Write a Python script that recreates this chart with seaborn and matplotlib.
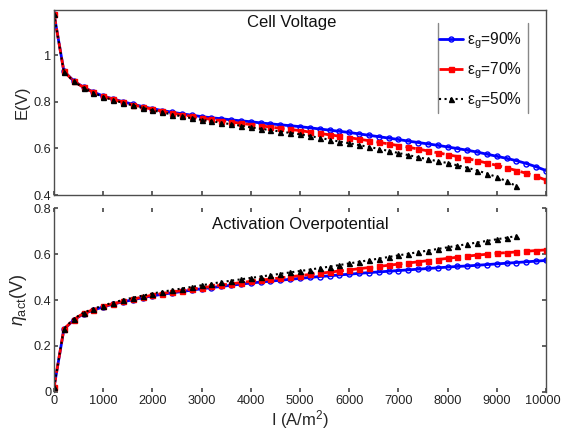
import numpy as np
import pandas as pd
import matplotlib
matplotlib.use("Agg")
import matplotlib.pyplot as plt
import matplotlib.transforms as mtransforms
import seaborn as sns
from matplotlib.lines import Line2D

# ---------------- data ----------------
current = list(range(0, 10001, 200))          # I (A/m^2)
current_50 = list(range(0, 9401, 200))

E_90 = [1.176, 0.931, 0.889, 0.862, 0.841, 0.824, 0.812, 0.800, 0.789, 0.779,
        0.770, 0.762, 0.755, 0.748, 0.742, 0.736, 0.731, 0.727, 0.722, 0.718,
        0.714, 0.709, 0.705, 0.701, 0.697, 0.693, 0.688, 0.683, 0.678, 0.673,
        0.668, 0.662, 0.656, 0.650, 0.644, 0.638, 0.631, 0.625, 0.619, 0.613,
        0.606, 0.599, 0.592, 0.584, 0.575, 0.566, 0.557, 0.547, 0.535, 0.521,
        0.505]
E_70 = [1.176, 0.930, 0.888, 0.861, 0.840, 0.823, 0.810, 0.798, 0.787, 0.777,
        0.768, 0.759, 0.751, 0.744, 0.737, 0.730, 0.724, 0.719, 0.713, 0.707,
        0.702, 0.697, 0.691, 0.686, 0.681, 0.676, 0.670, 0.664, 0.658, 0.652,
        0.646, 0.639, 0.633, 0.626, 0.619, 0.612, 0.605, 0.597, 0.589, 0.581,
        0.573, 0.565, 0.556, 0.547, 0.537, 0.527, 0.516, 0.505, 0.493, 0.480,
        0.464]
E_50 = [1.176, 0.929, 0.887, 0.859, 0.838, 0.820, 0.807, 0.795, 0.784, 0.773,
        0.763, 0.754, 0.745, 0.737, 0.729, 0.722, 0.716, 0.710, 0.703, 0.697,
        0.690, 0.684, 0.678, 0.672, 0.666, 0.660, 0.653, 0.645, 0.637, 0.629,
        0.622, 0.614, 0.606, 0.598, 0.589, 0.580, 0.571, 0.562, 0.553, 0.545,
        0.537, 0.527, 0.517, 0.505, 0.492, 0.477, 0.459, 0.438]

eta_90 = [0.020, 0.272, 0.313, 0.340, 0.356, 0.370, 0.382, 0.392, 0.401, 0.410,
          0.418, 0.425, 0.431, 0.437, 0.443, 0.449, 0.454, 0.459, 0.464, 0.469,
          0.474, 0.478, 0.482, 0.486, 0.490, 0.494, 0.498, 0.502, 0.505, 0.509,
          0.512, 0.516, 0.519, 0.522, 0.525, 0.528, 0.531, 0.534, 0.537, 0.540,
          0.543, 0.546, 0.548, 0.551, 0.554, 0.557, 0.560, 0.563, 0.566, 0.569,
          0.572]
eta_70 = [0.020, 0.273, 0.315, 0.342, 0.358, 0.372, 0.384, 0.394, 0.404, 0.413,
          0.421, 0.428, 0.435, 0.441, 0.447, 0.453, 0.459, 0.465, 0.470, 0.476,
          0.481, 0.486, 0.491, 0.496, 0.501, 0.506, 0.511, 0.516, 0.521, 0.526,
          0.531, 0.536, 0.541, 0.546, 0.551, 0.556, 0.561, 0.566, 0.571, 0.576,
          0.581, 0.586, 0.591, 0.595, 0.599, 0.603, 0.606, 0.609, 0.612, 0.615,
          0.618]
eta_50 = [0.020, 0.275, 0.318, 0.345, 0.362, 0.376, 0.389, 0.400, 0.410, 0.419,
          0.428, 0.436, 0.443, 0.450, 0.457, 0.464, 0.471, 0.478, 0.484, 0.490,
          0.496, 0.502, 0.508, 0.514, 0.520, 0.526, 0.532, 0.539, 0.545, 0.552,
          0.559, 0.566, 0.573, 0.580, 0.587, 0.594, 0.601, 0.608, 0.615, 0.622,
          0.629, 0.636, 0.643, 0.650, 0.657, 0.664, 0.671, 0.678]

labels = ["ε$_\\mathrm{g}$=90%", "ε$_\\mathrm{g}$=70%", "ε$_\\mathrm{g}$=50%"]
x_ticks = list(range(0, 10001, 1000))
E_ticks = [0.4, 0.6, 0.8, 1.0]
E_ticklabels = ["0.4", "0.6", "0.8", "1"]
eta_ticks = [0, 0.2, 0.4, 0.6, 0.8]
eta_ticklabels = ["0", "0.2", "0.4", "0.6", "0.8"]

# ---------------- style ----------------
sns.set_theme(style="white")
plt.rcParams['font.family'] = ['Liberation Sans', 'DejaVu Sans']
plt.rcParams['mathtext.fontset'] = 'custom'
plt.rcParams['mathtext.rm'] = 'Liberation Sans'
plt.rcParams['mathtext.it'] = 'Liberation Sans:italic'

spine_c = '#4d4d4d'
fig = plt.figure(figsize=(5.62, 4.32), dpi=100)
ax1 = fig.add_axes([0.0961, 0.5486, 0.8754, 0.4283])
ax2 = fig.add_axes([0.0961, 0.0926, 0.8754, 0.4259])

styles = [
    dict(color='#0000ff', marker='o', linestyle='-', lw=2.0, mfc='none'),
    dict(color='#ff0000', marker='s', linestyle='--', lw=2.0, mfc='#ff0000'),
    dict(color='#000000', marker='^', linestyle=':', lw=1.5, mfc='#000000'),
]

def draw(ax, xs, ys):
    for x, y, st, lab in zip(xs, ys, styles, labels):
        sns.lineplot(x=x, y=y, ax=ax, color=st['color'], marker=st['marker'],
                     linestyle=st['linestyle'], linewidth=st['lw'],
                     markersize=3.6, markerfacecolor=st['mfc'],
                     markeredgecolor=st['color'], markeredgewidth=1.0,
                     label=lab, legend=False, sort=False)

draw(ax1, [current, current, current_50], [E_90, E_70, E_50])
draw(ax2, [current, current, current_50], [eta_90, eta_70, eta_50])

# top axes
ax1.set_xlim(0, 10000)
ax1.set_ylim(0.4, 1.193)
ax1.set_xticks(x_ticks)
ax1.set_xticklabels([])
ax1.set_yticks(E_ticks)
ax1.set_yticklabels(E_ticklabels)
ax1.set_ylabel("E(V)", fontsize=12, labelpad=3)
for s in ax1.spines.values():
    s.set_color(spine_c)
    s.set_linewidth(1.0)
ax1.tick_params(direction='in', length=3, color=spine_c, labelsize=9.2,
                labelcolor='#222222', pad=2, bottom=True, left=True)
ax1.text(0.484, 0.935, "Cell Voltage", transform=ax1.transAxes,
         ha='center', va='center', fontsize=12, color='#111111')

leg = ax1.legend(loc='upper right', bbox_to_anchor=(0.963, 0.925),
                 frameon=False, fontsize=11.2, handlelength=1.55,
                 handletextpad=0.2, labelspacing=0.62, borderaxespad=0)
for t in leg.get_texts():
    t.set_color('#111111')
for xa in (0.780, 0.963):
    ax1.add_line(Line2D([xa, xa], [0.443, 0.93], transform=ax1.transAxes,
                        color='#888888', lw=1.0))

# bottom axes
ax2.set_xlim(0, 10000)
ax2.set_ylim(0, 0.8)
ax2.set_xticks(x_ticks)
ax2.set_xticklabels([str(v) for v in x_ticks])
ax2.set_yticks(eta_ticks)
ax2.set_yticklabels(eta_ticklabels)
ax2.set_xlabel("I (A/m$^2$)", fontsize=12, labelpad=1)
ax2.set_ylabel("$\\eta_{\\mathrm{act}}$(V)", fontsize=13, labelpad=3)
ax2.spines['top'].set_visible(False)
ax2.spines['bottom'].set_visible(False)
for k in ('left', 'right'):
    ax2.spines[k].set_color(spine_c)
    ax2.spines[k].set_linewidth(1.0)
ax2.tick_params(direction='in', length=3, color=spine_c, labelsize=9.2,
                labelcolor='#222222', pad=2, bottom=True, top=True,
                left=True, right=True)
ax2.text(0.5, 0.908, "Activation Overpotential", transform=ax2.transAxes,
         ha='center', va='center', fontsize=12, color='#111111')

# nudge the last tick label so it stays inside the figure
last = ax2.get_xticklabels()[-1]
last.set_transform(last.get_transform() +
                   mtransforms.ScaledTranslation(-3 / 100, 0, fig.dpi_scale_trans))

fig.savefig("out.png", dpi=100)
